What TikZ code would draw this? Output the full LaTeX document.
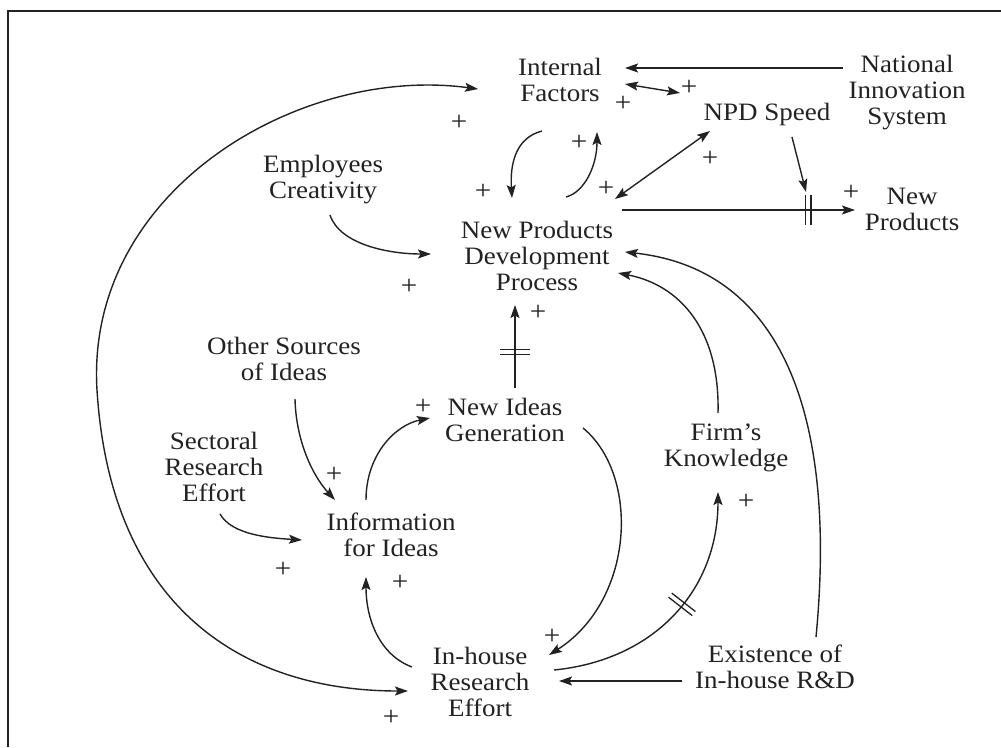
\documentclass[tikz,border=0pt]{standalone}
\usepackage{fontspec}
\setmainfont{Liberation Serif}[FakeStretch=1.08]
\usetikzlibrary{arrows.meta,calc}
\definecolor{ink}{HTML}{222222}
\begin{document}
\begin{tikzpicture}[x=1pt,y=-1pt,
  lbl/.style={align=center, inner sep=0pt, text=ink, font=\fontsize{25}{26}\selectfont},
  pl/.style={inner sep=0pt, text=ink, font=\fontsize{27}{27}\selectfont},
  tip/.tip={Stealth[length=13pt,width=9pt,inset=2.5pt]},
  link/.style={draw=ink, line width=1.4pt, -tip},
  both/.style={draw=ink, line width=1.4pt, tip-tip},
  pics/delaymark/.style={code={\draw[draw=ink,line width=1.3pt,-] (-2.6pt,-15pt) -- (-2.6pt,15pt) (2.6pt,-15pt) -- (2.6pt,15pt);}}
]
\useasboundingbox (0,0) rectangle (1001,747);
% frame
\draw[ink, line width=2.2pt] (8,747) -- (8,11) -- (1001,11);

% variables
\node[lbl] (IF)   at (560,80)  {Internal\\Factors};
\node[lbl] (NIS)  at (907,93)  {National\\Innovation\\System};
\node[lbl] (NPDS) at (767,114) {NPD Speed};
\node[lbl] (EC)   at (323,180) {Employees\\Creativity};
\node[lbl] (NPDP) at (537,256) {New Products\\Development\\Process};
\node[lbl] (NP)   at (912,209) {New\\Products};
\node[lbl] (OSI)  at (284,359) {Other Sources\\of Ideas};
\node[lbl] (SRE)  at (214,467) {Sectoral\\Research\\Effort};
\node[lbl] (IFI)  at (391,535) {Information\\for Ideas};
\node[lbl] (NIG)  at (505,420) {New Ideas\\Generation};
\node[lbl] (FK)   at (726,448) {Firm’s\\Knowledge};
\node[lbl] (IRE)  at (480,682) {In-house\\Research\\Effort};
\node[lbl] (EIRD) at (775,667) {Existence of\\In-house R\&D};

% links
\draw[link] ($(NIS)+(-64,-25)$) -- ($(IF)+(65,-12)$);
\draw[both] ($(IF)+(65,4)$) -- ($(NPDS)+(-87,-21)$);
\draw[link] ($(NPDS)+(25,23)$) -- ($(NP)+(-106,-17)$);
\draw[link] ($(NPDP)+(85,-46)$) -- pic[pos=0.8,sloped]{delaymark} ($(NP)+(-57,1)$);
\draw[both] ($(NPDS)+(-57,17)$) -- ($(NPDP)+(78,-57)$);
\draw[link] ($(IF)+(-18,51)$) .. controls (515,138) and (510,165) .. ($(NPDP)+(-25,-58)$);
\draw[link] ($(NPDP)+(29,-59)$) .. controls (585,192) and (597,165) .. ($(IF)+(37,52)$);
\draw[both] ($(IF)+(-82,9)$) .. controls (300,65) and (85,190) .. (97,390)
            .. controls (110,600) and (235,691) .. ($(IRE)+(-72,9)$);
\draw[link] ($(EC)+(7,35)$) .. controls (340,245) and (390,254) .. ($(NPDP)+(-106,-2)$);
\draw[link] ($(NIG)+(10,-32)$) -- pic[pos=0.434,sloped]{delaymark} ($(NPDP)+(-22,49)$);
\draw[link] ($(OSI)+(11,40)$) .. controls (296,440) and (312,475) .. ($(IFI)+(-56,-35)$);
\draw[link] ($(SRE)+(6,47)$) .. controls (232,535) and (270,538) .. ($(IFI)+(-89,5)$);
\draw[link] ($(IFI)+(-25,-35)$) .. controls (366,455) and (395,425) .. ($(NIG)+(-75,-2)$);
\draw[link] ($(IRE)+(-68,-15)$) .. controls (380,655) and (366,620) .. ($(IFI)+(-25,42)$);
\draw[link] ($(NIG)+(78,8)$) .. controls (640,475) and (635,600) .. ($(IRE)+(69,-27)$);
\draw[link] ($(IRE)+(74,-12)$) .. controls (655,660) and (718,590) .. pic[pos=0.55,sloped]{delaymark} ($(FK)+(-8,44)$);
\draw[link] ($(EIRD)+(-93,14)$) -- ($(IRE)+(79,-1)$);
\draw[link] ($(FK)+(-8,-35)$) .. controls (720,330) and (680,285) .. ($(NPDP)+(81,17)$);
\draw[link] ($(EIRD)+(41,-30)$) .. controls (836,430) and (790,270) .. ($(NPDP)+(88,-4)$);

% polarities
\node[pl] (p1)  at (689,88)  {+};
\node[pl] (p2)  at (623,104) {+};
\node[pl] (p3)  at (459,123) {+};
\node[pl] (p4)  at (579,143) {+};
\node[pl] (p5)  at (483,192) {+};
\node[pl] (p6)  at (606,189) {+};
\node[pl] (p7)  at (710,159) {+};
\node[pl] (p8)  at (851,193) {+};
\node[pl] (p9)  at (409,287) {+};
\node[pl] (p10) at (538,313) {+};
\node[pl] (p11) at (423,407) {+};
\node[pl] (p12) at (334,475) {+};
\node[pl] (p13) at (283,570) {+};
\node[pl] (p14) at (400,583) {+};
\node[pl] (p15) at (552,637) {+};
\node[pl] (p16) at (746,502) {+};
\node[pl] (p17) at (391,718) {+};
\end{tikzpicture}
\end{document}
